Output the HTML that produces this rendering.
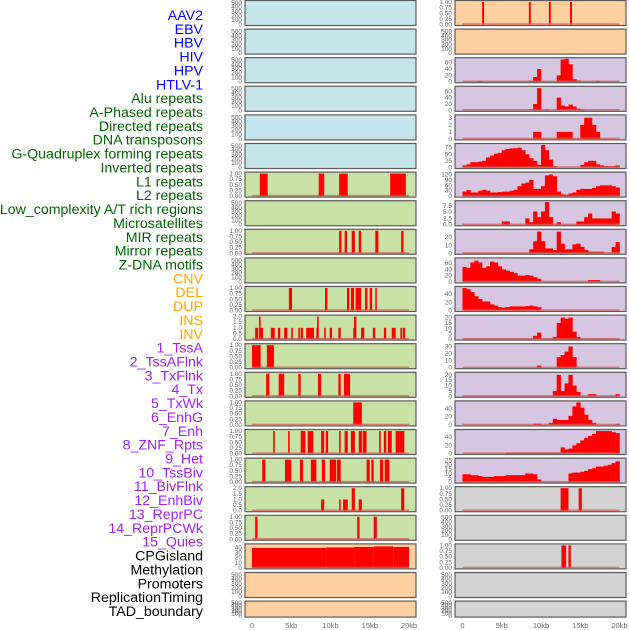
<!DOCTYPE html>
<html><head><meta charset="utf-8"><style>
html,body{margin:0;padding:0;background:#fff;}
svg{display:block;font-family:"Liberation Sans",sans-serif;}
</style></head><body>
<svg id="chart" width="630" height="630" viewBox="0 0 630 630" xmlns="http://www.w3.org/2000/svg"></svg>
<script>
// ---------- data ----------
const trackLabels = ["AAV2","EBV","HBV","HIV","HPV","HTLV-1","Alu repeats","A-Phased repeats","Directed repeats","DNA transposons","G-Quadruplex forming repeats","Inverted repeats","L1 repeats","L2 repeats","Low_complexity A/T rich regions","Microsatellites","MIR repeats","Mirror repeats","Z-DNA motifs","CNV","DEL","DUP","INS","INV","1_TssA","2_TssAFlnk","3_TxFlnk","4_Tx","5_TxWk","6_EnhG","7_Enh","8_ZNF_Rpts","9_Het","10_TssBiv","11_BivFlnk","12_EnhBiv","13_ReprPC","14_ReprPCWk","15_Quies","CPGisland","Methylation","Promoters","ReplicationTiming","TAD_boundary"];
const labelGroups = ["virus","virus","virus","virus","virus","virus","repeat","repeat","repeat","repeat","repeat","repeat","repeat","repeat","repeat","repeat","repeat","repeat","repeat","sv","sv","sv","sv","sv","chrom","chrom","chrom","chrom","chrom","chrom","chrom","chrom","chrom","chrom","chrom","chrom","chrom","chrom","chrom","other","other","other","other","other"];
const xTickValues = [0,5,10,15,20];
const xTickLabels = ["0","5kb","10kb","15kb","20kb"];

const T500 = [0,100,200,300,400,500];
const T1 = [0,0.25,0.5,0.75,1];
const T1L = ["0.00","0.25","0.50","0.75","1.00"];
const T2 = [0,0.5,1,1.5,2];
const T2L = ["0.0","0.5","1.0","1.5","2.0"];
const T40 = [0,10,20,30,40];
const T40L = ["0","10","20","30","40"];

// left column intervals [startKb, endKb, value]
const L6 = [[1.0,2.0,1],[8.5,9.2,1],[11.1,12.2,1],[17.6,19.6,1]];
const L8 = [[11.1,11.4,1],[11.8,12.1,1],[12.7,13.1,1],[13.6,13.9,1],[15.7,16.1,1],[19.0,19.3,1]];
const L10 = [[4.7,5.1,1],[9.3,9.6,1],[12.1,12.4,1],[12.6,13.0,1],[13.2,13.9,1],[14.4,14.7,1],[15.0,15.3,1],[15.7,15.9,1]];
const L11 = [[0.4,0.8,1],[0.9,1.1,2],[1.1,1.4,1],[2.4,2.9,1],[3.3,3.6,1],[4.1,4.5,1],[5.0,5.2,1],[5.9,6.1,1],[6.2,6.5,1],[6.9,7.9,1],[8.2,8.3,1],[8.3,8.5,2],[9.2,9.4,1],[9.9,10.2,1],[11.0,11.3,1],[12.9,13.0,1],[13.0,13.3,2],[13.9,14.3,1],[15.4,15.7,1],[16.8,17.1,1],[17.8,18.3,1],[18.9,19.1,1],[19.2,19.5,1]];
const L12 = [[0,1.1,1],[1.9,2.8,1]];
const L13 = [[1.8,2.2,1],[3.4,4.1,1],[5.9,6.2,1],[8.4,8.8,1],[11.0,11.3,1],[11.7,12.5,1]];
const L14 = [[12.9,14.0,1]];
const L15 = [[2.7,2.9,1],[4.6,4.8,1],[6.2,6.8,1],[7.1,7.8,1],[8.8,9.2,1],[9.4,9.7,1],[11.1,11.3,1],[11.8,12.2,1],[12.6,13.1,1],[13.6,14.0,1],[14.1,14.6,1],[16.2,16.4,1],[16.8,17.1,1],[17.3,17.8,1],[18.3,19.4,1]];
const L16 = [[1.3,1.7,1],[4.2,5.0,1],[6.1,6.5,1],[7.5,8.2,1],[8.9,9.3,1],[9.9,10.7,1],[10.8,11.3,1],[14.6,15.0,1],[15.2,15.5,1],[16.3,16.7,1],[16.9,17.5,1]];
const L17 = [[8.8,9.2,1],[11.1,11.3,1],[11.6,12.2,1],[12.7,13.1,2],[13.6,14.0,1],[19.0,19.4,2]];
const L18 = [[0.4,0.7,1],[13.4,13.7,1],[15.5,15.9,1]];
const L19 = [[0,9.5,39],[9.5,13,40],[13,15.5,41],[15.5,18,42],[18,20,41]];

// right column
const R0 = [[2.5,2.75,1],[8.45,8.7,1],[11.0,11.25,1],[13.7,13.95,1]];
const R2 = [0,0,0,0,2,0,0,0,0,0,0,0,0,0,0,0,0,3,15,40,0,0,0,0,20,70,72,55,8,4,0,0,0,0,3,0,0,0,0,0];
const R3 = [0,0,0,0,0,0,0,0,0,0,0,0,0,0,0,0,0,3,20,70,0,2,0,0,40,15,12,18,12,5,3,0,0,0,0,0,0,0,0,0];
const R4 = [0,0,0,0,0,0,0,0,0,0,0,0,0,0,0,0,0,0,1,1,0,0,0,0,1,1,1,1,0,0,2,3,3,2,1,0,0,0,0,0];
const R5 = [8,12,20,20,22,25,38,45,52,55,65,70,72,73,75,65,50,35,25,10,85,65,30,5,0,0,0,0,0,0,10,20,25,25,12,8,5,5,5,8];
const R6 = [25,33,20,20,30,35,30,20,20,22,25,25,30,35,55,70,75,90,40,40,55,115,120,110,25,10,8,15,20,35,40,40,40,45,55,60,60,60,55,48];
const R7 = [0,0,0,0,0,0,0,0,0,0,1.3,1.3,0,0,0,0,2.5,1,5.3,3,5.3,9,3,0,1,0,0,0,0,1.3,1.3,3,4.5,2.5,2.5,2.5,2.5,2.5,5.3,4.5];
const R8 = [0,0,0,0,0,0,0,0,0,0,0,0,0,0,0,0,0,5,15,27,15,6,6,4,27,12,5,5,11,12,8,4,2,2,2,2,0,0,8,14];
const R9 = [48,45,62,68,62,45,50,65,62,50,40,36,32,28,20,20,22,20,15,10,0,0,0,0,0,0,0,0,0,0,0,0,6,6,6,0,0,0,0,0];
const R10 = [55,52,45,35,28,22,22,15,12,8,7,8,10,10,10,10,11,12,10,8,0,0,0,0,0,0,0,0,0,0,0,0,0,0,0,0,0,0,0,0];
const R11 = [0,0,0,0,0,0,0,0,0,0,0,0,0,0,0,0,0,0,3,6,0,0,0,2,15,20,19,20,7,2,0,0,0,0,0,0,0,0,0,0];
const R12 = [0,0,0,0,0,0,0,0,0,0,0,0,0,0,0,0,0,0,0,3,0,0,0,0,15,18,23,30,15,0,0,0,0,0,0,0,0,0,0,0];
const R13 = [0,0,0,0,0,0,0,0,0,0,0,0,0,0,0,0,0,0,0,0,0,0,0,5,20,5,12,20,10,4,0,0,2,2,0,0,0,0,0,2];
const R14 = [0,0,0,0,0,0,0,0,0,0,0,0,0,0,0,0,0,0,3,3,0,0,5,15,12,12,12,22,45,55,42,25,12,5,0,0,0,0,0,3];
const R15 = [0,0,0,0,0,0,0,0,0,0,0,2,2,2,2,2,2,2,2,2,2,2,2,2,2,15,10,12,20,25,32,38,43,48,55,55,55,55,52,50];
const R16 = [9,9,8,8,7,6,6,6,7,7,7,8,8,8,8,8,10,10,9,3,0,0,0,0,0,0,0,10,11,11,12,13,15,16,18,18,19,20,22,24];
const R17 = [[12.5,13.5,1],[14.8,15.2,1]];
const R19 = [[12.6,13.2,1],[13.5,13.8,1]];

// ---------- layout ----------
const C = {blue:"#c6e4eb", green:"#c8e1a4", orange:"#fed09f", purple:"#d6c6e2", grey:"#d3d3d3"};
const labelColor = {virus:"#0000ff", repeat:"#006400", sv:"#ffa500", chrom:"#a020f0", other:"#000000"};
function E(){return {kind:"none",ticks:T500,dmax:520};}
function I(d,t,tl,m){return {kind:"iv",data:d,ticks:t||T1,tl:tl||(t?null:T1L),dmax:m||1};}
function B(d,t,m,tl){return {kind:"bin",data:d,ticks:t,dmax:m,tl:tl};}
const leftCol = [
 ["blue",E()],["blue",E()],["blue",E()],["blue",E()],["blue",E()],["blue",E()],
 ["green",I(L6)],["green",E()],["green",I(L8)],["green",E()],["green",I(L10)],
 ["green",I(L11,T2,T2L,2)],["green",I(L12)],["green",I(L13)],["green",I(L14)],["green",I(L15)],["green",I(L16)],
 ["green",I(L17,T2,T2L,2)],["green",I(L18)],["orange",I(L19,T40,T40L,44)],["orange",E()],["orange",E()]
];
const rightCol = [
 ["orange",I(R0)],["orange",E()],
 ["purple",B(R2,[0,20,40,60],71)],["purple",B(R3,[0,20,40,60],71)],["purple",B(R4,[0,1,2,3],3.2)],
 ["purple",B(R5,[0,25,50,75],85)],["purple",B(R6,[0,30,60,90,120],125)],["purple",B(R7,[0,2.5,5,7.5],9,["0.0","2.5","5.0","7.5"])],
 ["purple",B(R8,[0,10,20],28)],["purple",B(R9,[0,20,40,60],72)],["purple",B(R10,[0,20,40],55)],
 ["purple",B(R11,[0,5,10,15,20],21)],["purple",B(R12,[0,10,20,30],32)],["purple",B(R13,[0,5,10,15,20],21)],
 ["purple",B(R14,[0,20,40],55)],["purple",B(R15,[0,20,40],55)],["purple",B(R16,[0,5,10,15,20,25],26)],
 ["grey",I(R17)],["grey",E()],["grey",I(R19)],["grey",E()],["grey",E()]
];

const NS="http://www.w3.org/2000/svg";
const svg=document.getElementById('chart');
function mk(tag,attrs,parent){const el=document.createElementNS(NS,tag);for(const k in attrs)el.setAttribute(k,attrs[k]);(parent||svg).appendChild(el);return el;}

// labels
trackLabels.forEach((t,i)=>{
  const el=mk('text',{x:203,y:(15+i*13.86+5).toFixed(1),'text-anchor':'end','font-size':'14.2',fill:labelColor[labelGroups[i]]});
  
  
  el.textContent=t;
});

function drawColumn(col,px0,dx0,side){
  const dx1=dx0+157;
  const xs=kb=>dx0+(kb/20)*(dx1-dx0);
  col.forEach((row,i)=>{
    const top=0.5+i*28.6, h=(i===21)?16:25;
    const cfg=row[1];
    const g=mk('g',{});
    
    
    mk('rect',{x:px0,y:top,width:171,height:h,fill:C[row[0]],stroke:'#5a5a5a','stroke-width':'1.2'},g);
    const y0=top+h-1, yt=top+1.5;
    const ys=v=>y0-(v/cfg.dmax)*(y0-yt);
    cfg.ticks.forEach((tv,k)=>{
      const lab=cfg.tl?cfg.tl[k]:String(tv);
      const tx=mk('text',{x:px0-3,y:(ys(tv)+2).toFixed(1),'text-anchor':'end','font-size':'6.5',fill:'#666'},g);
      
      
      tx.textContent=lab;
    });
    if(cfg.kind==='none')return;
    if(cfg.kind==='iv'){
      cfg.data.forEach(d=>{
        const r=mk('rect',{x:xs(d[0]).toFixed(2),y:ys(d[2]).toFixed(2),width:Math.max(1.2,xs(d[1])-xs(d[0])).toFixed(2),height:(y0-ys(d[2])).toFixed(2),fill:'#ff0000'},g);
        
        
      });
    } else {
      cfg.data.forEach((v,k)=>{
        if(!v)return;
        const r=mk('rect',{x:xs(k*0.5).toFixed(2),y:ys(v).toFixed(2),width:(xs((k+1)*0.5)-xs(k*0.5)+0.3).toFixed(2),height:(y0-ys(v)).toFixed(2),fill:'#ff0000'},g);
        
        
      });
    }
    const bl=mk('line',{x1:dx0,x2:dx1,y1:y0-0.5,y2:y0-0.5,stroke:'#d9534f','stroke-opacity':'0.7','stroke-width':'1.5'},g);
    
    
  });
  xTickValues.forEach((v,k)=>{
    const t=mk('text',{x:xs(v).toFixed(1),y:628,'text-anchor':'middle','font-size':'7.5',fill:'#666'});
    
    
    t.textContent=xTickLabels[k];
  });
}
drawColumn(leftCol,245,252,'left');
drawColumn(rightCol,455,462.5,'right');
</script>
</body></html>
